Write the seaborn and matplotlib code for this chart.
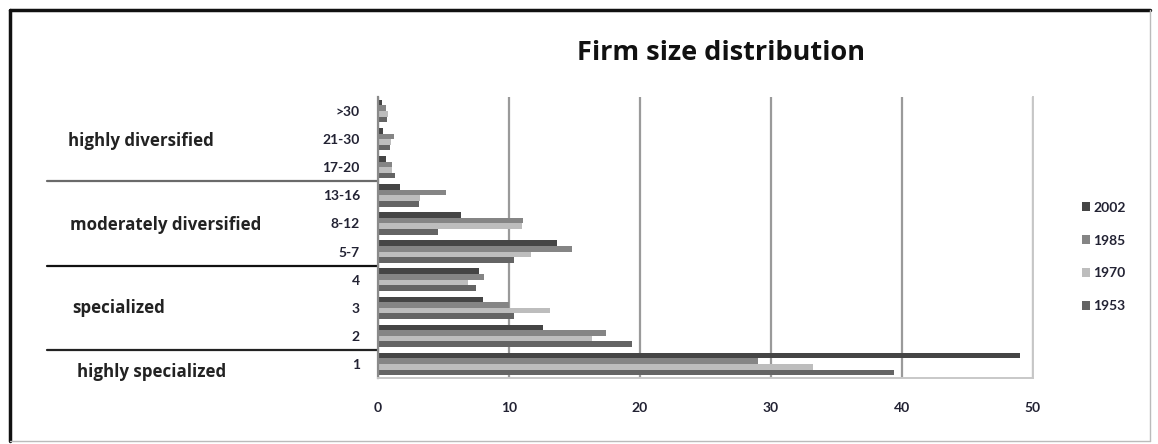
import pandas as pd
import seaborn as sns
import matplotlib.pyplot as plt
from matplotlib.lines import Line2D
import matplotlib.transforms as mtransforms

# Number of activities (category) -> share of firms (%) per year
categories = ['1', '2', '3', '4', '5-7', '8-12', '13-16', '17-20', '21-30', '>30']
y2002 = [49.0, 12.6, 8.0, 7.7, 13.7, 6.3, 1.7, 0.6, 0.4, 0.3]
y1985 = [29.0, 17.4, 10.0, 8.1, 14.8, 11.1, 5.2, 1.1, 1.2, 0.6]
y1970 = [33.2, 16.3, 13.1, 6.9, 11.7, 11.0, 3.2, 1.1, 1.0, 0.8]
y1953 = [39.4, 19.4, 10.4, 7.5, 10.4, 4.6, 3.1, 1.3, 0.9, 0.7]
years = ['2002', '1985', '1970', '1953']
year_colors = ['#454545', '#858585', '#bdbdbd', '#646464']

groups = ['highly diversified', 'moderately diversified', 'specialized', 'highly specialized']

rows = []
for year, vals in zip(years, [y2002, y1985, y1970, y1953]):
    for cat, v in zip(categories, vals):
        rows.append({'Size': cat, 'Year': year, 'Share': v})
df = pd.DataFrame(rows)

sns.set_style('white')
plt.rcParams['font.family'] = ['Lato', 'DejaVu Sans']
wide_font = ['Open Sans', 'DejaVu Sans']

fig = plt.figure(figsize=(11.58, 4.44), dpi=100)
ax = fig.add_axes([378 / 1158, 1 - 378 / 444, 655 / 1158, 281 / 444])

order = categories[::-1]
sns.barplot(data=df, x='Share', y='Size', hue='Year', order=order, hue_order=years,
            palette=year_colors, orient='h', width=0.8, ax=ax, saturation=1,
            linewidth=0, edgecolor='none')

ax.set_xlim(0, 50)
ax.set_ylim(len(order) - 0.5, -0.5)
ax.set_xticks([0, 10, 20, 30, 40, 50])
ax.set_xlabel('')
ax.set_ylabel('')
ax.xaxis.grid(True, color='#9a9a9a', linewidth=1.6)
ax.set_axisbelow(True)
ax.tick_params(axis='x', length=0, pad=17, labelsize=10, labelcolor='#222233')
ax.tick_params(axis='y', length=0, pad=13, labelsize=10, labelcolor='#222233')
for lab in ax.get_xticklabels() + ax.get_yticklabels():
    lab.set_fontweight('bold')

ax.spines['top'].set_visible(False)
ax.spines['left'].set_color('#8a8a8a')
ax.spines['left'].set_linewidth(1.6)
ax.spines['right'].set_color('#c8c8c8')
ax.spines['right'].set_linewidth(1.4)
ax.spines['bottom'].set_color('#c8c8c8')
ax.spines['bottom'].set_linewidth(1.4)

ax.set_title('Firm size distribution', fontsize=19.5, fontweight='bold', family=wide_font,
             color='#111111', x=0.524, y=1.0, pad=27)

# group labels and separators left of the axis
trans = mtransforms.blended_transform_factory(ax.transAxes, ax.transData)
label_pos = [(-0.473, 1.05), (-0.47, 4.05), (-0.467, 7.0), (-0.46, 9.3)]
for text, (gx, gy) in zip(groups, label_pos):
    ax.text(gx, gy, text, transform=trans, fontsize=12.2, fontweight='bold',
            family=wide_font, color='#222222', va='center', ha='left')
for sy, col in [(2.5, '#6a6a6a'), (5.5, '#111111'), (8.5, '#222222')]:
    ax.plot([-0.505, 0.0], [sy, sy], transform=trans, color=col, lw=1.6, clip_on=False)

leg = ax.legend(loc='center left', bbox_to_anchor=(1069 / 1158, 1 - 257 / 444),
                bbox_transform=fig.transFigure, frameon=False, fontsize=10,
                handlelength=0.6, handleheight=0.6, handletextpad=0.25,
                labelspacing=1.5)
for t in leg.get_texts():
    t.set_color('#222233')
    t.set_fontweight('bold')

# outer frame
fig.add_artist(Line2D([10 / 1158, 10 / 1158], [3 / 444, 1 - 10 / 444], color='#111111', lw=2.5))
fig.add_artist(Line2D([10 / 1158, 1150 / 1158], [1 - 10 / 444, 1 - 10 / 444], color='#111111', lw=2.5))
fig.add_artist(Line2D([1150 / 1158, 1150 / 1158], [3 / 444, 1 - 10 / 444], color='#bbbbbb', lw=1))
fig.add_artist(Line2D([10 / 1158, 1150 / 1158], [3 / 444, 3 / 444], color='#bbbbbb', lw=1))

fig.savefig('out.png', dpi=100)
